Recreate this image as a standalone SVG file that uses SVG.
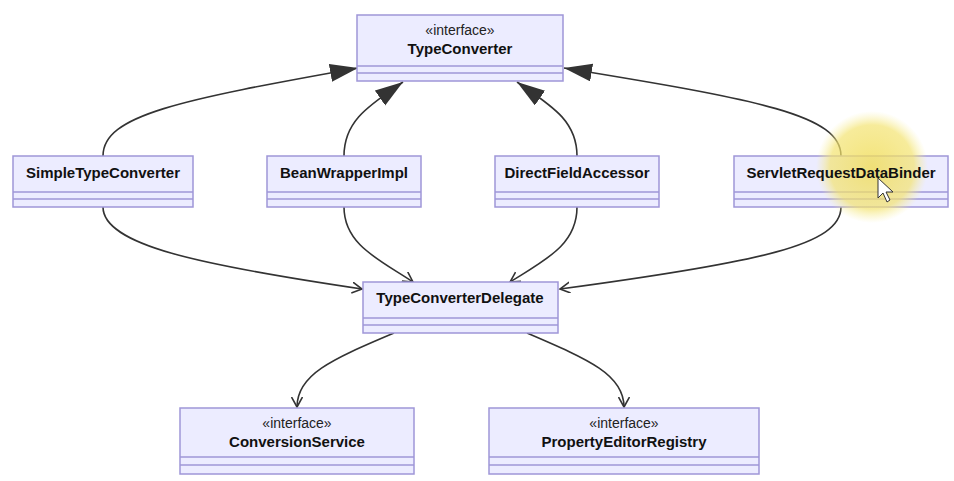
<svg xmlns="http://www.w3.org/2000/svg" width="954" height="481" viewBox="0 0 954 481">
<style>
.box{fill:#ECECFF;stroke:#9f96d8;stroke-width:1.5}
.sep{stroke:#9f96d8;stroke-width:1.5;fill:none}
.edge{fill:none;stroke:#333;stroke-width:1.6}
.st{font-family:"Liberation Sans",Arial,sans-serif;font-size:14px;fill:#222;text-anchor:middle}
.nm{font-family:"Liberation Sans",Arial,sans-serif;font-size:15px;font-weight:bold;fill:#111;text-anchor:middle}
</style>
<defs>
<marker id="tri" markerUnits="userSpaceOnUse" markerWidth="30" markerHeight="20" refX="28" refY="9" orient="auto">
<path d="M0,0 L28,9 L0,18 z" fill="#333"/>
</marker>
<marker id="open" markerUnits="userSpaceOnUse" markerWidth="12" markerHeight="12" refX="10" refY="5.5" orient="auto">
<path d="M0,0 L10,5.5 L0,11" fill="none" stroke="#333" stroke-width="1.6"/>
</marker>
<radialGradient id="glow">
<stop offset="0" stop-color="#f0dc55" stop-opacity="0.8"/>
<stop offset="0.75" stop-color="#f3e370" stop-opacity="0.7"/>
<stop offset="1" stop-color="#f8ef9a" stop-opacity="0"/>
</radialGradient>
</defs>
<rect width="954" height="481" fill="#fff"/>
<g id="connectors">
<path class="edge" marker-end="url(#tri)" d="M103,156 C103,115 180,100 358,68"/>
<path class="edge" marker-end="url(#tri)" d="M344,156 C344,120 370,105 403,82"/>
<path class="edge" marker-end="url(#tri)" d="M577,156 C577,120 550,105 517,82"/>
<path class="edge" marker-end="url(#tri)" d="M841,156 C841,115 760,100 564,68"/>
<path class="edge" marker-end="url(#open)" d="M103,207 C103,245 200,265 362,289"/>
<path class="edge" marker-end="url(#open)" d="M344,207 C344,245 380,260 413,282"/>
<path class="edge" marker-end="url(#open)" d="M577,207 C577,245 545,260 510,282"/>
<path class="edge" marker-end="url(#open)" d="M841,207 C841,245 760,262 560,289"/>
<path class="edge" marker-end="url(#open)" d="M394,333 C330,360 297,375 297,407"/>
<path class="edge" marker-end="url(#open)" d="M527,333 C590,360 624,375 624,407"/>
</g>
<g id="TypeConverter">
<rect class="box" x="357" y="15" width="206" height="66"/>
<path class="sep" d="M357,66 H563 M357,73 H563"/>
<text class="st" x="460" y="35">«interface»</text>
<text class="nm" x="460" y="54">TypeConverter</text>
</g>
<g id="SimpleTypeConverter">
<rect class="box" x="13" y="156" width="180" height="51"/>
<path class="sep" d="M13,192 H193 M13,199 H193"/>
<text class="nm" x="103" y="178">SimpleTypeConverter</text>
</g>
<g id="BeanWrapperImpl">
<rect class="box" x="267" y="156" width="154" height="51"/>
<path class="sep" d="M267,192 H421 M267,199 H421"/>
<text class="nm" x="344" y="178">BeanWrapperImpl</text>
</g>
<g id="DirectFieldAccessor">
<rect class="box" x="495" y="156" width="164" height="51"/>
<path class="sep" d="M495,192 H659 M495,199 H659"/>
<text class="nm" x="577" y="178">DirectFieldAccessor</text>
</g>
<g id="ServletRequestDataBinder">
<rect class="box" x="734" y="156" width="214" height="51"/>
<path class="sep" d="M734,192 H948 M734,199 H948"/>
<circle cx="872" cy="167" r="56" fill="url(#glow)"/>
<text class="nm" x="841" y="178">ServletRequestDataBinder</text>
<path d="M878,178 L878,198 L883,193 L887,202 L890,200 L886,192 L893,192 Z" fill="#fff" stroke="#333" stroke-width="1"/>
</g>
<g id="TypeConverterDelegate">
<rect class="box" x="363" y="282" width="195" height="51"/>
<path class="sep" d="M363,318 H558 M363,325 H558"/>
<text class="nm" x="460" y="303">TypeConverterDelegate</text>
</g>
<g id="ConversionService">
<rect class="box" x="180" y="408" width="234" height="66"/>
<path class="sep" d="M180,457 H414 M180,465 H414"/>
<text class="st" x="297" y="428">«interface»</text>
<text class="nm" x="297" y="447">ConversionService</text>
</g>
<g id="PropertyEditorRegistry">
<rect class="box" x="489" y="408" width="270" height="66"/>
<path class="sep" d="M489,457 H759 M489,465 H759"/>
<text class="st" x="624" y="428">«interface»</text>
<text class="nm" x="624" y="447">PropertyEditorRegistry</text>
</g>
</svg>
